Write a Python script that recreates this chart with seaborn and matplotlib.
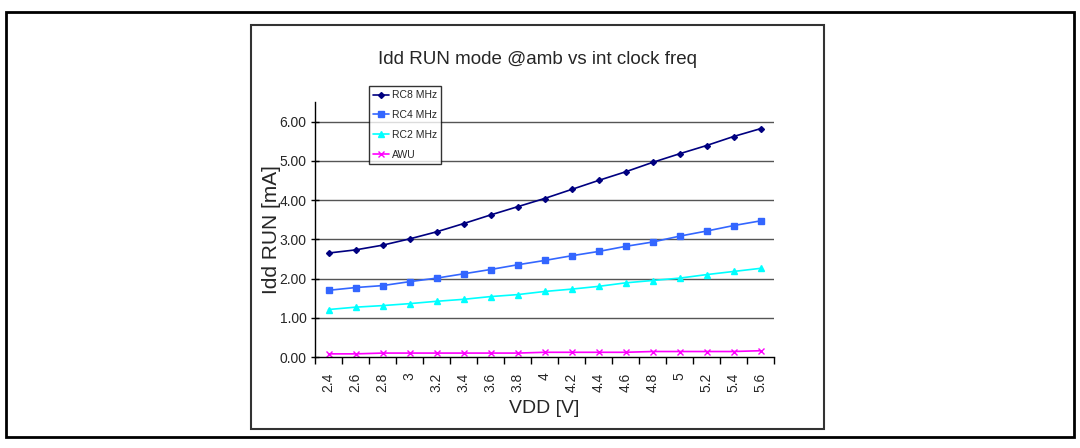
import matplotlib
matplotlib.use("Agg")
import matplotlib.pyplot as plt
import matplotlib.patches as patches
from matplotlib.ticker import FixedLocator, NullFormatter
import seaborn as sns
import pandas as pd

# values
vdd_labels = ["2.4", "2.6", "2.8", "3", "3.2", "3.4", "3.6", "3.8", "4",
              "4.2", "4.4", "4.6", "4.8", "5", "5.2", "5.4", "5.6"]
rc8_mhz = [2.65, 2.73, 2.85, 3.01, 3.19, 3.40, 3.62, 3.83, 4.04,
           4.27, 4.50, 4.72, 4.96, 5.18, 5.39, 5.62, 5.82]
rc4_mhz = [1.70, 1.77, 1.82, 1.92, 2.01, 2.12, 2.23, 2.35, 2.46,
           2.58, 2.69, 2.82, 2.93, 3.08, 3.21, 3.35, 3.47]
rc2_mhz = [1.21, 1.27, 1.31, 1.36, 1.42, 1.47, 1.54, 1.59, 1.67,
           1.73, 1.80, 1.89, 1.95, 2.01, 2.10, 2.18, 2.26]
awu = [0.08, 0.08, 0.10, 0.10, 0.10, 0.10, 0.10, 0.10, 0.12,
       0.12, 0.12, 0.12, 0.14, 0.14, 0.14, 0.14, 0.16]
series_names = ["RC8 MHz", "RC4 MHz", "RC2 MHz", "AWU"]
y_ticks = [0, 1, 2, 3, 4, 5, 6]

sns.set_theme(style="white")
plt.rcParams["font.family"] = ["Liberation Sans", "DejaVu Sans"]

idx = list(range(len(vdd_labels)))
df = pd.DataFrame({"x": idx * 4,
                   "Idd": rc8_mhz + rc4_mhz + rc2_mhz + awu,
                   "series": [s for s in series_names for _ in idx]})

colors = {"RC8 MHz": "#000080", "RC4 MHz": "#3366FF",
          "RC2 MHz": "#00FFFF", "AWU": "#FF00FF"}
markers = {"RC8 MHz": "D", "RC4 MHz": "s", "RC2 MHz": "^", "AWU": "x"}
msize = {"RC8 MHz": 3, "RC4 MHz": 5, "RC2 MHz": 5, "AWU": 5}

fig = plt.figure(figsize=(10.8, 4.48), dpi=100)
ax = fig.add_axes([315 / 1080, 1 - 357 / 448, (774 - 315) / 1080, (357 - 102) / 448])

for name in series_names:
    sub = df[df["series"] == name]
    sns.lineplot(data=sub, x="x", y="Idd", ax=ax, color=colors[name],
                 marker=markers[name], markersize=msize[name], linewidth=1.2,
                 markeredgecolor=colors[name], markeredgewidth=1, label=name)

ax.set_xlim(-0.5, len(vdd_labels) - 0.5)
ax.set_ylim(0, 6.5)
ax.set_yticks(y_ticks)
ax.set_yticklabels([f"{v:.2f}" for v in y_ticks], fontsize=10)
for v in y_ticks[1:]:
    ax.axhline(v, color="#555555", linewidth=1, zorder=0)

ax.set_xticks(idx)
ax.set_xticklabels(vdd_labels, rotation=90, fontsize=10)
ax.xaxis.set_minor_locator(FixedLocator([i - 0.5 for i in range(len(vdd_labels) + 1)]))
ax.xaxis.set_minor_formatter(NullFormatter())
ax.tick_params(axis="x", which="major", length=0, pad=11)
ax.tick_params(axis="x", which="minor", length=5, width=1, direction="out", color="black", bottom=True)
ax.tick_params(axis="y", length=6, width=1, direction="inout", color="black", left=True, pad=3)

for side in ["top", "right"]:
    ax.spines[side].set_visible(False)
for side in ["left", "bottom"]:
    ax.spines[side].set_color("black")
    ax.spines[side].set_linewidth(1)

ax.set_xlabel("VDD [V]", fontsize=14, labelpad=6)
ax.set_ylabel("Idd RUN [mA]", fontsize=15, labelpad=-1)
fig.text(537 / 1080, 1 - 59 / 448, "Idd RUN mode @amb vs int clock freq",
         ha="center", va="center", fontsize=13.5)

leg = ax.legend(loc="upper left", bbox_to_anchor=(369 / 1080, 1 - 86 / 448),
                bbox_transform=fig.transFigure, fontsize=7.5, frameon=True,
                fancybox=False, handlelength=1.5, handletextpad=0.3,
                borderpad=0.4, labelspacing=0.95, borderaxespad=0)
leg.get_frame().set_edgecolor("black")
leg.get_frame().set_linewidth(1)

# chart area box and outer frame
fig.patches.append(patches.Rectangle((251 / 1080, 1 - 429 / 448), 573 / 1080, 404 / 448,
                                     transform=fig.transFigure, fill=False,
                                     edgecolor="#333333", linewidth=1.5))
fig.patches.append(patches.Rectangle((6 / 1080, 1 - 437 / 448), 1068 / 1080, 425 / 448,
                                     transform=fig.transFigure, fill=False,
                                     edgecolor="black", linewidth=2))

fig.savefig("out.png", dpi=100)
